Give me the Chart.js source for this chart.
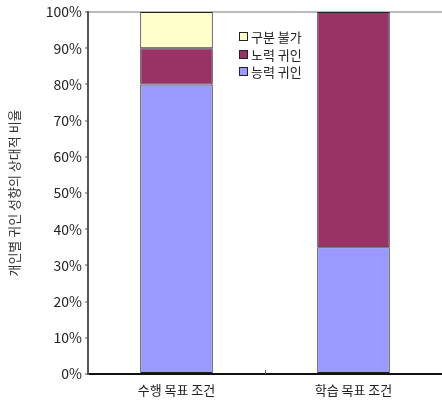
<!DOCTYPE html>
<html>
<head>
<meta charset="utf-8">
<script src="https://cdn.jsdelivr.net/npm/chart.js@4"></script>
<style>
  html, body { margin: 0; padding: 0; background: #fff; }
  #wrap { position: relative; width: 442px; height: 400px; }
  #legend { position: absolute; left: 239px; top: 28px; font-family: "Noto Sans CJK KR", sans-serif; font-size: 13px; color: #222; line-height: 17.5px; }
  #legend div { display: flex; align-items: center; white-space: nowrap; }
  #legend span.sw { display: inline-block; width: 7px; height: 7px; border: 1px solid #222; margin-right: 3px; }
</style>
</head>
<body>
<div id="wrap">
  <canvas id="c" width="442" height="400"></canvas>
  <div id="legend"></div>
</div>
<script>
const categories = ["수행 목표 조건", "학습 목표 조건"];
const abilityAttribution = [80, 35];
const effortAttribution = [10, 65];
const undetermined = [10, 0];
const seriesNames = ["능력 귀인", "노력 귀인", "구분 불가"];
const seriesColors = ["#9999FF", "#993366", "#FFFFCC"];
const yTicks = [0, 10, 20, 30, 40, 50, 60, 70, 80, 90, 100];
const yTitle = "개인별 귀인 성향의 상대적 비율";

const font = "'Noto Sans CJK KR', sans-serif";

const xInnerTicks = {
  id: 'xInnerTicks',
  afterDraw(chart) {
    const xs = chart.scales.x;
    const ctx = chart.ctx;
    const bottom = chart.chartArea.bottom;
    ctx.save();
    ctx.strokeStyle = '#555';
    ctx.lineWidth = 1;
    for (let i = 0; i < categories.length - 1; i++) {
      const px = Math.round((xs.getPixelForValue(i) + xs.getPixelForValue(i + 1)) / 2) + 0.5;
      ctx.beginPath();
      ctx.moveTo(px, bottom);
      ctx.lineTo(px, bottom - 4);
      ctx.stroke();
    }
    ctx.restore();
  }
};

const datasets = [abilityAttribution, effortAttribution, undetermined].map((d, i) => ({
  label: seriesNames[i],
  data: d,
  backgroundColor: seriesColors[i],
  borderColor: '#222',
  borderWidth: 1,
  borderSkipped: false,
  barPercentage: 0.41,
  categoryPercentage: 1.0
}));

new Chart(document.getElementById('c'), {
  type: 'bar',
  data: { labels: categories, datasets },
  options: {
    responsive: false,
    animation: false,
    layout: { padding: { top: 12, right: 0, left: 0, bottom: 0 } },
    plugins: { legend: { display: false }, tooltip: { enabled: false } },
    scales: {
      x: {
        stacked: true,
        grid: { display: false },
        border: { color: '#111', width: 2 },
        ticks: { color: '#222', font: { family: font, size: 13 }, padding: 0 },
        afterFit(s) { s.height = 26; }
      },
      y: {
        stacked: true,
        min: 0, max: 100,
        afterBuildTicks(s) { s.ticks = yTicks.map(v => ({ value: v })); },
        grid: {
          drawOnChartArea: true,
          color: (ctx) => (ctx.tick && ctx.tick.value === 100) ? '#bbb' : 'rgba(0,0,0,0)',
          lineWidth: 2,
          tickColor: '#555',
          tickLength: 3,
          tickWidth: 1
        },
        border: { color: '#555', width: 2 },
        ticks: {
          color: '#222',
          font: { family: font, size: 14 },
          padding: 3,
          callback: (v) => v + '%'
        },
        title: { display: true, text: yTitle, color: '#333', font: { family: font, size: 13 }, padding: { top: 6, bottom: 0 } },
        afterFit(s) { s.width = 88; }
      }
    }
  },
  plugins: [xInnerTicks]
});

const legendEl = document.getElementById('legend');
[2, 1, 0].forEach(i => {
  const row = document.createElement('div');
  const sw = document.createElement('span');
  sw.className = 'sw';
  sw.style.background = seriesColors[i];
  row.appendChild(sw);
  row.appendChild(document.createTextNode(seriesNames[i]));
  legendEl.appendChild(row);
});
</script>
</body>
</html>
